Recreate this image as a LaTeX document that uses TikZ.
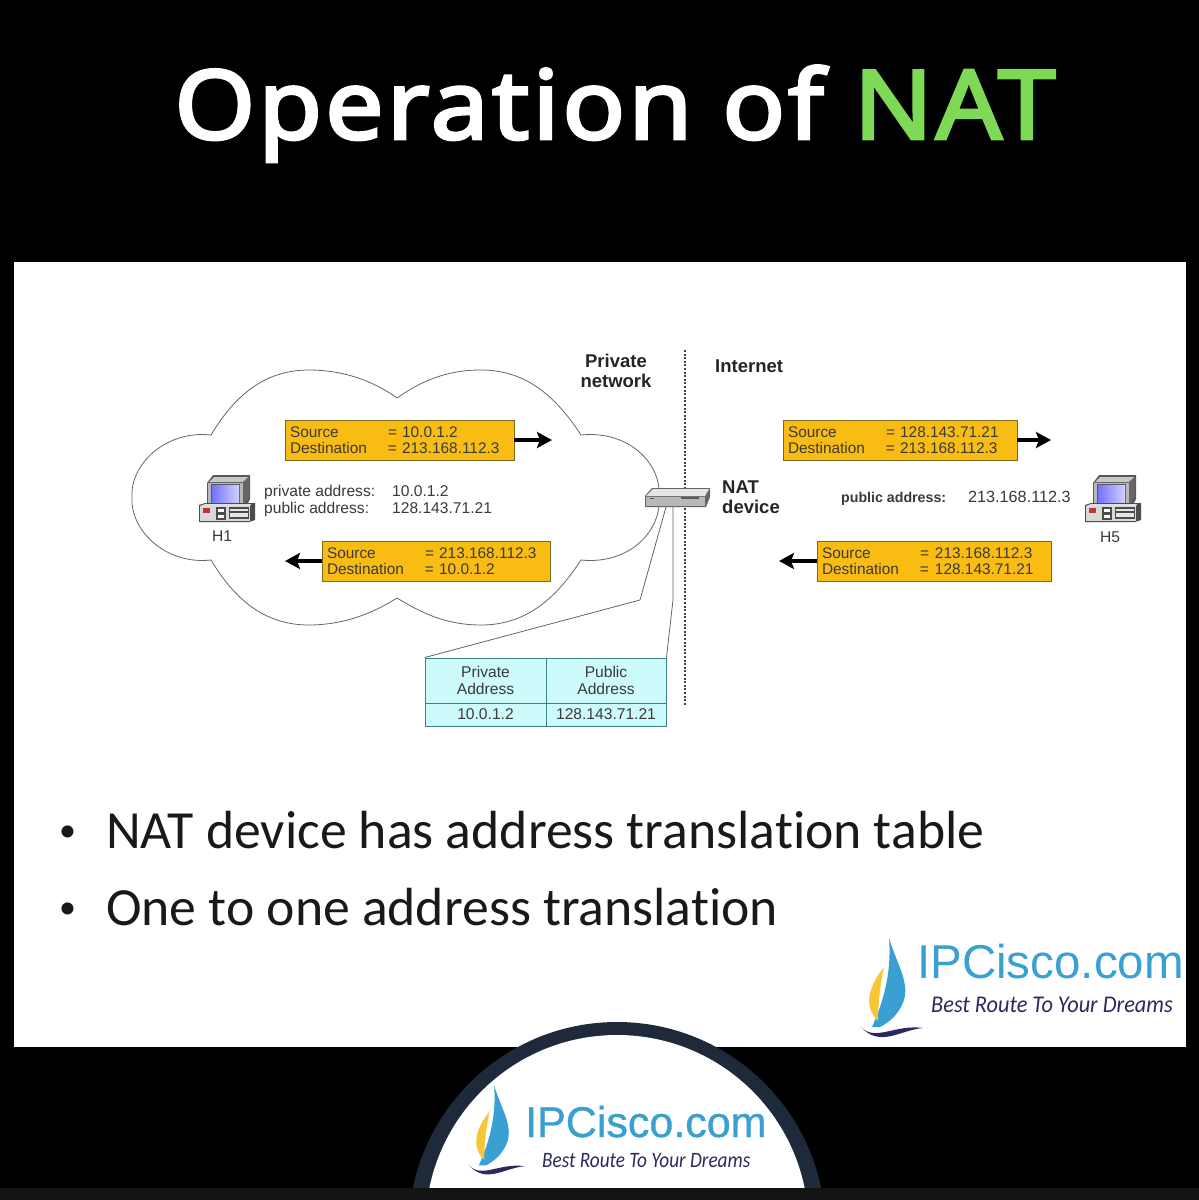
\documentclass[tikz,border=0pt]{standalone}
\usepackage{fontspec}
\usepackage{graphicx}
\setmainfont{Liberation Sans}
\newfontfamily\titlefont[FakeBold=3,LetterSpace=3]{Noto Sans}
\newfontfamily\bodyfont[Ligatures=NoCommon]{Carlito}
\newfontfamily\logofont[FakeBold=0.8]{Liberation Sans}
\usetikzlibrary{arrows.meta}
\definecolor{boxfill}{HTML}{F9BC12}
\definecolor{boxline}{HTML}{7A6A20}
\definecolor{tablefill}{HTML}{CDFBFB}
\definecolor{tableline}{HTML}{3F7F86}
\definecolor{lineg}{HTML}{666666}
\definecolor{labelg}{HTML}{3A3A3A}
\definecolor{natgreen}{HTML}{7ED957}
\definecolor{logoblue}{HTML}{3AA0D2}
\definecolor{logoyellow}{HTML}{F6C636}
\definecolor{logonavy}{HTML}{2A2A5E}
\definecolor{archnavy}{HTML}{1E2A3A}
\tikzset{
  x=1pt,y=-1pt,
  yellowbox/.style={draw=boxline,line width=.9pt,fill=boxfill,minimum width=#1,text width=#1-10pt,minimum height=40pt,
     inner sep=0pt,align=left,text=labelg,font=\fontsize{15.4}{16.2}\selectfont},
  flow/.style={line width=3.6pt,-{Stealth[length=15pt,width=16pt,inset=3pt]}},
  plain/.style={text=labelg,inner sep=0pt,font=\fontsize{15.6}{16.2}\selectfont},
  boldlabel/.style={text=black!85,inner sep=0pt,align=center,font=\fontsize{18.5}{20}\selectfont\bfseries},
  cell/.style={draw=tableline,line width=.9pt,fill=tablefill,inner sep=0pt,align=center,text=labelg,font=\fontsize{15.6}{17}\selectfont},
  wire/.style={draw=lineg,line width=.8pt},
  bullettext/.style={anchor=base west,inner sep=0pt,text=black!90,font=\bodyfont\fontsize{53.7}{54}\selectfont},
  bulletdot/.style={anchor=base west,inner sep=0pt,text=black!90,font=\bodyfont\fontsize{34}{34}\selectfont},
}
\newcommand{\pcicon}[2]{%
 \begin{scope}[shift={(#1,#2)}]
  \fill[black!65] (8,8) -- (14,0) -- (51,0) -- (51,24) -- (48,30) -- (8,30) -- cycle;
  \fill[black!22] (10,7) -- (15,2) -- (49,2) -- (44,7) -- cycle;
  \fill[black!28] (9,8) rectangle (44,29);
  \fill[black!60] (44,7) -- (50,2) -- (50,22) -- (44,30) -- cycle;
  \fill[black!65] (12,9) rectangle (41,28);
  \shade[left color=blue!55!white,right color=blue!18!white] (13,10) rectangle (40,27);
  \fill[black!70] (0,30) -- (6,28) -- (56,28) -- (56,45) -- (50,47) -- (0,47) -- cycle;
  \fill[black!12] (1,31) -- (6,29) -- (52,29) -- (51,31) -- cycle;
  \fill[black!15] (1,31) rectangle (51,46);
  \fill[red!70!black!80] (4,33) rectangle (11,38);
  \fill[black!70] (17,32) rectangle (27,45);
  \fill[white] (19,34) rectangle (25,37);
  \fill[white] (19,40) rectangle (25,43);
  \fill[black!70] (30,32) rectangle (50,44);
  \fill[black!10] (31,34) rectangle (49,36);
  \fill[black!10] (31,38) rectangle (49,42);
 \end{scope}}
\newcommand{\logosail}{%
  \fill[logoblue] (889,938) .. controls (897,965) and (912,985) .. (902,1005)
     .. controls (897,1015) and (890,1022) .. (880,1027) -- (872,1027)
     .. controls (882,1005) and (892,975) .. cycle;
  \fill[logoyellow] (884,967) .. controls (870,985) and (862,1005) .. (878,1021)
     .. controls (878,1005) and (880,985) .. cycle;
  \fill[logonavy] (861,1027) .. controls (875,1042) and (895,1024) .. (923,1028)
     .. controls (900,1030) and (880,1048) .. (861,1027) -- cycle;
}
\begin{document}
\begin{tikzpicture}
\useasboundingbox (0,0) rectangle (1199,1200);
\fill[black] (0,0) rectangle (1199,1200);
\fill[white] (14,262) rectangle (1186,1047);
% title
\node[anchor=base,inner sep=0pt,text=white,font=\titlefont\fontsize{96}{100}\selectfont] (title) at (615,139)
  {\scalebox{1.08}[1]{Operation of \textcolor{natgreen}{NAT}}};
% cloud
\draw[draw=lineg,line width=.8pt,fill=white]
  (211,435) .. controls (235,395) and (265,370) .. (309,370)
  .. controls (345,370) and (375,382) .. (397,398)
  .. controls (420,382) and (445,370) .. (481,370)
  .. controls (525,370) and (555,395) .. (581,435)
  .. controls (630,430) and (662,465) .. (659,497)
  .. controls (662,530) and (630,565) .. (581,560)
  .. controls (555,600) and (525,625) .. (481,625)
  .. controls (445,625) and (420,612) .. (397,598)
  .. controls (375,612) and (345,625) .. (309,625)
  .. controls (265,625) and (235,600) .. (211,560)
  .. controls (165,565) and (130,530) .. (132,497)
  .. controls (130,465) and (165,430) .. (211,435) -- cycle;
% dotted boundary
\coordinate (dotA) at (685,350);
\coordinate (dotB) at (685,705);
\draw[line width=1.6pt,black!75,dash pattern=on 2pt off 1.6pt] (dotA) -- (dotB);
% labels
\node[boldlabel] (privnet) at (616,371) {Private\\network};
\node[boldlabel,anchor=west] (internet) at (715,366) {Internet};
\node[boldlabel,anchor=west,align=left] (natlabel) at (722,497) {NAT\\device};
% yellow boxes
\node[yellowbox=229pt] (b1) at (399.5,440) {\makebox[98pt][l]{Source}= 10.0.1.2\\\makebox[98pt][l]{Destination}= 213.168.112.3};
\node[yellowbox=228pt] (b2) at (436,561) {\makebox[98pt][l]{Source}= 213.168.112.3\\\makebox[98pt][l]{Destination}= 10.0.1.2};
\node[yellowbox=234pt] (b3) at (900,440) {\makebox[98pt][l]{Source}= 128.143.71.21\\\makebox[98pt][l]{Destination}= 213.168.112.3};
\node[yellowbox=234pt] (b4) at (934,561) {\makebox[98pt][l]{Source}=\hspace{6pt}213.168.112.3\\\makebox[98pt][l]{Destination}=\hspace{6pt}128.143.71.21};
\coordinate (a1) at (552,440);
\coordinate (a2) at (285,561);
\coordinate (a3) at (1051,440);
\coordinate (a4) at (779,561);
\draw[flow] (b1.east) -- (a1);
\draw[flow] (b2.west) -- (a2);
\draw[flow] (b3.east) -- (a3);
\draw[flow] (b4.west) -- (a4);
% hosts
\pcicon{199}{475}
\pcicon{1085}{475}
\node[plain] (h1) at (222,536) {H1};
\node[plain] (h5) at (1110,537) {H5};
\node[plain,anchor=base west] (pl1) at (264,496) {private address:};
\node[plain,anchor=base west] (pl2) at (264,513) {public address:};
\node[plain,anchor=base west] (pv1) at (392,496) {10.0.1.2};
\node[plain,anchor=base west] (pv2) at (392,513) {128.143.71.21};
\node[plain,anchor=base west,font=\fontsize{14.2}{16}\selectfont\bfseries] (pl3) at (841,502) {public address:};
\node[plain,anchor=base west,font=\fontsize{16.2}{16}\selectfont] (pv3) at (968,502) {213.168.112.3};
% table
\node[cell,minimum width=121pt,minimum height=45pt] (c1) at (485.5,680.5) {Private\\Address};
\node[cell,minimum width=120pt,minimum height=45pt] (c2) at (606,680.5) {Public\\Address};
\node[cell,minimum width=121pt,minimum height=23pt] (c3) at (485.5,714.5) {10.0.1.2};
\node[cell,minimum width=120pt,minimum height=23pt] (c4) at (606,714.5) {128.143.71.21};
% NAT device
\coordinate (natL) at (666,507);
\coordinate (natR) at (673,507);
\coordinate (kinkL) at (640,600);
\coordinate (kinkR) at (673,600);
\draw[wire] (natL) -- (kinkL) -- (c1.north west);
\draw[wire] (natR) -- (kinkR) -- (c2.north east);
\fill[black!60] (645,496) -- (652,488) -- (710,488) -- (710,497) -- (706,507) -- (645,507) -- cycle;
\fill[black!10] (646,496) -- (653,489) -- (709,489) -- (705,496) -- cycle;
\fill[black!28] (646,497) rectangle (705,506);
\fill[black!65] (681,497) rectangle (699,498.5);
\fill[black!65] (650,497.5) rectangle (654,499);
% bullets
\node[bulletdot] (d1) at (59,841) {•};
\node[bullettext] (t1) at (106,848) {NAT device has address translation table};
\node[bulletdot] (d2) at (59,918) {•};
\node[bullettext] (t2) at (106,925) {One to one address translation};
% logo in panel
\logosail
\node[anchor=base west,inner sep=0pt,text=logoblue,font=\fontsize{47.5}{50}\selectfont] (lg1) at (917,978) {IPCisco.com};
\node[anchor=base west,inner sep=0pt,text=logonavy,font=\bodyfont\itshape\fontsize{24}{26}\selectfont] (lg2) at (931,1012) {\scalebox{.93}[1]{Best Route To Your Dreams}};
% arch
\begin{scope}
  \clip (380,1000) rectangle (860,1188);
  \fill[archnavy] (617,1230.5) circle (208.5);
  \fill[white] (617,1226.5) circle (191.5);
\end{scope}
\fill[black!92] (0,1188) rectangle (1199,1200);
\begin{scope}[shift={(-306,241)},scale=.9]
  \logosail
\end{scope}
\node[anchor=base west,inner sep=0pt,text=logoblue,font=\logofont\fontsize{43}{46}\selectfont] (lg3) at (525,1137) {IPCisco.com};
\node[anchor=base west,inner sep=0pt,text=logonavy,font=\bodyfont\itshape\fontsize{22}{24}\selectfont] (lg4) at (542,1167) {\scalebox{.874}[1]{Best Route To Your Dreams}};
\end{tikzpicture}
\end{document}
